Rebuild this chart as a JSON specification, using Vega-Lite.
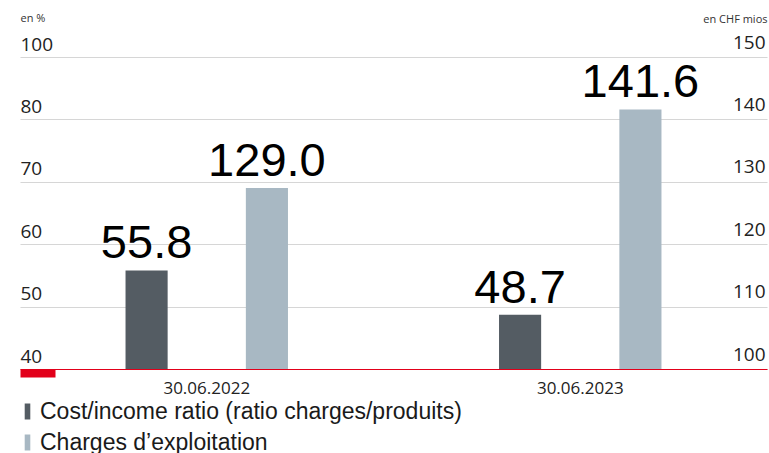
{
  "$schema": "https://vega.github.io/schema/vega-lite/v6.json",
  "width": 747,
  "height": 312,
  "autosize": "none",
  "padding": {"left": 20, "top": 57, "right": 2, "bottom": 84},
  "background": "white",
  "config": {
    "view": {"stroke": null},
    "font": "Open Sans",
    "axis": {"labelColor": "#222222", "titleColor": "#333333", "titleFontWeight": "normal", "labelFont": "Open Sans", "titleFont": "Open Sans"}
  },
  "data": {
    "values": [
      {"date": "30.06.2022", "series": "Cost/income ratio (ratio charges/produits)", "value": 55.8, "label": "55.8"},
      {"date": "30.06.2022", "series": "Charges d’exploitation", "value": 129.0, "label": "129.0"},
      {"date": "30.06.2023", "series": "Cost/income ratio (ratio charges/produits)", "value": 48.7, "label": "48.7"},
      {"date": "30.06.2023", "series": "Charges d’exploitation", "value": 141.6, "label": "141.6"}
    ]
  },
  "encoding": {
    "x": {
      "field": "date", "type": "nominal",
      "scale": {"paddingInner": 0, "paddingOuter": 0},
      "axis": {"orient": "bottom", "title": null, "labelAngle": 0, "domainColor": "#e2001a", "domainWidth": 1, "ticks": false, "tickSize": 0, "labelPadding": 24, "labelBaseline": "alphabetic", "labelFontSize": 17}
    },
    "xOffset": {
      "field": "series", "type": "nominal",
      "scale": {"domain": ["Cost/income ratio (ratio charges/produits)", "Charges d’exploitation"], "paddingInner": 0.65, "paddingOuter": 0.877}
    }
  },
  "layer": [
    {
      "transform": [{"filter": "datum.series == 'Cost/income ratio (ratio charges/produits)'"}],
      "encoding": {
        "y": {
          "field": "value", "type": "quantitative",
          "scale": {"domain": [40, 90], "zero": false, "nice": false},
          "axis": {
            "orient": "left", "values": [40, 50, 60, 70, 80, 90],
            "labelExpr": "datum.value == 90 ? '100' : datum.label",
            "grid": false, "domain": false,
            "ticks": true, "tickSize": -35, "tickWidth": 8, "tickOffset": 4,
            "tickColor": {"condition": {"test": "datum.value == 40", "value": "#e2001a"}, "value": "transparent"},
            "labelAlign": "left", "labelPadding": 35, "labelBaseline": "alphabetic", "labelOffset": -11,
            "labelFontSize": 19,
            "title": "en %", "titleAngle": 0, "titleX": 0, "titleY": -36, "titleAlign": "left", "titleBaseline": "alphabetic", "titleFontSize": 11
          }
        }
      },
      "layer": [
        {
          "mark": {"type": "bar", "clip": true},
          "encoding": {
            "color": {
              "field": "series", "type": "nominal",
              "scale": {"domain": ["Cost/income ratio (ratio charges/produits)", "Charges d’exploitation"], "range": ["#545c63", "#a8b8c3"]},
              "legend": {
                "orient": "none", "legendX": -4, "legendY": 343, "title": null, "direction": "vertical",
                "symbolType": "M-0.35,-1L0.35,-1L0.35,1L-0.35,1Z", "symbolSize": 256, "symbolStrokeWidth": 0,
                "labelFont": "Liberation Sans", "labelFontSize": 23, "labelColor": "#1a1a1a", "labelOffset": 1, "rowPadding": 7, "padding": 0, "labelLimit": 700
              }
            }
          }
        },
        {
          "mark": {"type": "text", "font": "Liberation Sans", "fontSize": 47, "color": "#000000", "baseline": "alphabetic", "dy": -12},
          "encoding": {"text": {"field": "label"}}
        }
      ]
    },
    {
      "transform": [{"filter": "datum.series == 'Charges d’exploitation'"}],
      "encoding": {
        "y": {
          "field": "value", "type": "quantitative",
          "scale": {"domain": [100, 150], "zero": false, "nice": false},
          "axis": {
            "orient": "right", "values": [100, 110, 120, 130, 140, 150],
            "grid": true, "gridColor": "#d6d6d6", "gridWidth": 1.2,
            "domain": false, "ticks": false, "tickSize": 0,
            "labelAlign": "right", "labelPadding": -2, "labelBaseline": "alphabetic", "labelOffset": -9,
            "labelFontSize": 19,
            "title": "en CHF mios", "titleAngle": 0, "titleX": 0, "titleY": -35, "titleAlign": "right", "titleBaseline": "alphabetic", "titleFontSize": 11
          }
        }
      },
      "layer": [
        {
          "mark": {"type": "bar", "clip": true},
          "encoding": {
            "color": {"field": "series", "type": "nominal"}
          }
        },
        {
          "mark": {"type": "text", "font": "Liberation Sans", "fontSize": 47, "color": "#000000", "baseline": "alphabetic", "dy": -12},
          "encoding": {"text": {"field": "label"}}
        }
      ]
    }
  ],
  "resolve": {"scale": {"y": "independent"}}
}
